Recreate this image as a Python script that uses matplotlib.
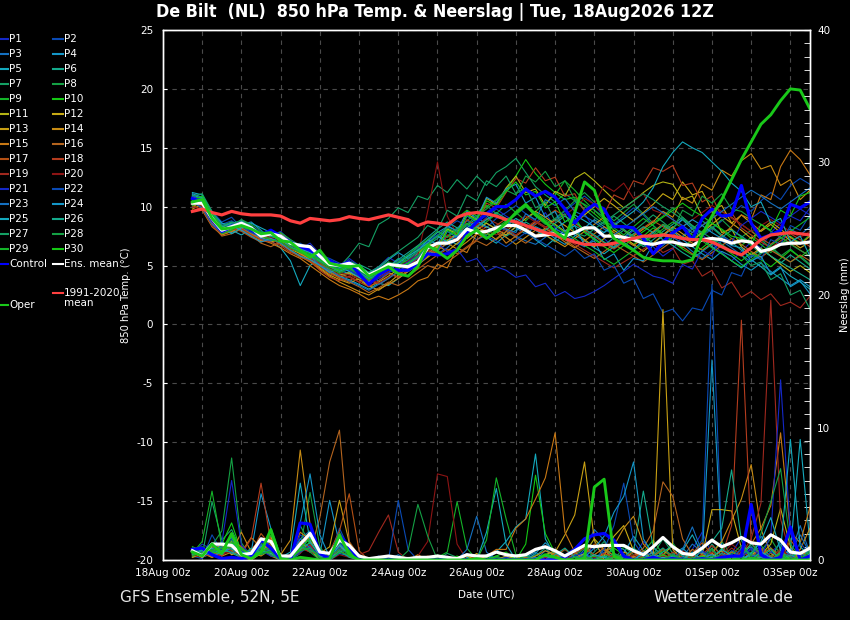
import matplotlib
matplotlib.use("Agg")
import matplotlib.pyplot as plt
import matplotlib.dates as mdates
from matplotlib.lines import Line2D
from matplotlib.ticker import MultipleLocator
from datetime import datetime, timedelta

plt.rcParams['font.family'] = ['DejaVu Sans']
plt.rcParams['axes.unicode_minus'] = False

# time axis: 6-hourly steps from 18Aug 18Z to 03Sep 12Z
run_start = datetime(2026, 8, 18, 18)
n_steps = 64
x_start = datetime(2026, 8, 18, 0)
x_end = datetime(2026, 9, 3, 12)
tick_dates = [datetime(2026, 8, 18) + timedelta(days=2 * k) for k in range(9)]

# ---- main lines: 850 hPa temperature (degC) ----
ctrl_temp = [10.7, 10.4, 8.9, 7.9, 8.3, 8.6, 8.0, 7.6, 8.0, 7.5, 7.0, 6.6, 6.3, 5.8, 5.4, 5.0,
             5.3, 4.3, 3.4, 4.2, 4.7, 4.6, 4.6, 5.2, 6.0, 5.9, 6.0, 6.3, 7.8, 8.7, 9.4, 10.0,
             10.0, 10.6, 11.5, 10.9, 11.3, 10.8, 9.8, 8.6, 9.6, 10.2, 9.8, 8.3, 8.3, 8.2, 7.3, 6.0,
             7.0, 7.8, 8.3, 7.2, 9.0, 9.8, 9.2, 9.3, 11.8, 8.6, 7.3, 7.6, 8.0, 10.2, 9.9, 10.4]
mean_temp = [10.3, 10.3, 9.0, 8.0, 8.3, 8.6, 8.2, 7.5, 7.7, 7.5, 6.9, 6.7, 6.6, 5.8, 5.1, 5.0,
             5.2, 4.8, 4.2, 4.6, 5.1, 5.0, 4.9, 5.3, 6.5, 6.9, 6.9, 7.2, 8.1, 7.8, 7.9, 8.2,
             8.4, 8.4, 8.0, 7.5, 7.6, 7.7, 7.5, 7.8, 8.2, 8.2, 7.5, 7.5, 7.4, 7.2, 6.9, 6.8,
             7.0, 7.0, 6.8, 6.7, 7.2, 7.3, 7.2, 6.9, 7.1, 7.0, 6.2, 6.4, 6.8, 6.9, 6.9, 7.0]
clim_temp = [9.6, 9.8, 9.5, 9.3, 9.6, 9.4, 9.3, 9.3, 9.3, 9.2, 8.8, 8.6, 9.0, 8.9, 8.8, 8.9,
             9.15, 9.0, 8.9, 9.1, 9.3, 9.1, 8.9, 8.4, 8.7, 8.6, 8.45, 9.1, 9.4, 9.5, 9.4, 9.2,
             8.9, 8.7, 8.4, 8.1, 7.8, 7.6, 7.3, 7.0, 6.8, 6.8, 6.75, 6.9, 7.1, 7.3, 7.5, 7.5,
             7.6, 7.5, 7.3, 7.2, 7.2, 7.0, 6.6, 6.2, 5.9, 6.5, 7.2, 7.6, 7.7, 7.8, 7.7, 7.6]
oper_temp = [10.4, 10.6, 9.0, 8.1, 8.2, 8.4, 8.1, 7.7, 7.8, 7.1, 7.0, 6.3, 5.7, 6.3, 5.2, 5.0,
             4.9, 5.0, 4.1, 4.5, 4.9, 4.3, 4.1, 4.9, 6.7, 6.2, 5.6, 6.3, 7.5, 8.0, 7.3, 7.9,
             8.6, 9.5, 10.2, 9.3, 8.7, 7.9, 7.3, 9.5, 12.1, 11.4, 9.0, 7.3, 6.8, 6.3, 5.7, 5.5,
             5.4, 5.4, 5.3, 5.5, 7.6, 9.2, 10.6, 12.3, 14.0, 15.5, 17.0, 17.8, 19.0, 20.0, 19.9, 18.3]

# ---- main lines: precipitation (mm / 6h) ----
ctrl_rain = [0.8, 0.9, 0.4, 0.1, 0.2, 0.1, 0.3, 1.5, 0.9, 0.1, 0.0, 2.8, 2.7, 0.5, 0.1, 1.9,
             1.0, 0.0, 0.0, 0.0, 0.0, 0.0, 0.0, 0.0, 0.0, 0.0, 0.0, 0.0, 0.0, 0.0, 0.0, 0.0,
             0.0, 0.0, 0.0, 0.0, 0.0, 0.0, 0.2, 0.8, 1.6, 1.9, 2.0, 1.5, 0.3, 0.0, 0.0, 0.2,
             0.0, 0.1, 0.0, 0.0, 0.1, 0.0, 0.2, 0.3, 0.3, 4.2, 0.4, 0.0, 0.2, 2.5, 0.0, 0.3]
mean_rain = [0.7, 0.3, 1.2, 1.2, 1.1, 0.4, 0.5, 1.6, 1.4, 0.3, 0.3, 1.2, 2.0, 0.6, 0.5, 1.5,
             1.1, 0.3, 0.1, 0.2, 0.3, 0.2, 0.1, 0.2, 0.2, 0.3, 0.2, 0.1, 0.4, 0.3, 0.3, 0.6,
             0.4, 0.3, 0.4, 0.8, 1.0, 0.7, 0.3, 0.7, 1.1, 1.0, 1.1, 1.1, 1.1, 0.7, 0.4, 1.0,
             1.7, 1.0, 0.5, 0.4, 0.9, 1.5, 1.0, 1.3, 1.7, 1.3, 1.2, 1.9, 1.5, 0.6, 0.5, 0.9]
oper_rain = [0.6, 0.3, 1.2, 0.5, 2.0, 0.4, 0.1, 0.6, 2.3, 0.1, 0.0, 0.2, 0.1, 0.0, 0.1, 1.9,
             0.4, 0.0, 0.0, 0.0, 0.0, 0.0, 0.0, 0.0, 0.0, 0.0, 0.0, 0.0, 0.0, 0.1, 0.0, 0.0,
             0.0, 0.0, 0.0, 0.0, 0.4, 0.2, 0.0, 0.0, 0.1, 5.5, 6.1, 0.3, 0.0, 0.0, 0.0, 0.0,
             0.0, 0.0, 0.0, 0.0, 0.0, 0.0, 0.0, 0.0, 0.0, 0.0, 0.0, 0.0, 0.0, 0.0, 0.0, 0.0]

# ---- perturbed members: temperature ----
p01_temp = [10.9, 10.6, 9.2, 8.3, 8.6, 8.4, 8.0, 7.2, 7.5, 7.9, 7.1, 6.4, 6.9, 6.0, 5.3, 4.8,
            5.6, 5.0, 4.4, 4.9, 5.7, 5.2, 5.5, 6.1, 7.2, 7.9, 7.4, 8.1, 8.8, 8.3, 9.1, 9.8,
            9.2, 8.7, 8.0, 8.6, 9.5, 8.2, 7.6, 8.9, 9.4, 8.1, 7.3, 6.5, 7.2, 8.0, 7.4, 6.6,
            5.8, 6.4, 7.5, 8.3, 7.6, 6.9, 6.1, 5.4, 6.2, 7.0, 6.5, 7.8, 8.6, 9.2, 8.8, 9.9]
p02_temp = [10.5, 10.9, 9.6, 8.7, 9.1, 8.2, 7.9, 7.5, 7.9, 7.2, 6.6, 6.9, 6.4, 5.9, 5.6, 5.2,
            5.0, 4.4, 3.8, 4.3, 4.9, 5.1, 4.6, 5.0, 6.0, 6.4, 6.8, 7.5, 7.9, 8.6, 8.2, 9.0,
            9.5, 10.1, 9.4, 8.8, 8.2, 8.9, 9.6, 10.3, 10.9, 10.2, 9.1, 8.5, 9.2, 9.9, 9.3, 8.4,
            7.6, 8.2, 9.0, 8.3, 7.5, 8.1, 8.8, 9.4, 10.1, 9.6, 10.5, 11.2, 10.6, 11.8, 12.4, 11.9]
p03_temp = [11.0, 10.2, 8.8, 7.7, 8.1, 8.9, 8.3, 7.8, 7.4, 7.6, 7.0, 6.6, 6.2, 5.4, 4.9, 4.5,
            4.8, 4.2, 3.6, 4.0, 4.6, 4.4, 5.0, 5.6, 6.3, 6.0, 6.5, 7.3, 7.8, 7.2, 7.6, 8.4,
            8.0, 7.5, 7.1, 6.8, 7.4, 8.1, 7.7, 7.0, 6.6, 7.3, 7.8, 8.6, 8.1, 7.4, 6.8, 6.1,
            6.7, 7.4, 6.9, 6.2, 5.6, 6.3, 7.1, 6.5, 5.9, 5.3, 6.0, 6.8, 7.5, 8.1, 7.6, 8.3]
p04_temp = [10.8, 10.0, 8.6, 8.0, 7.8, 8.5, 8.7, 8.0, 7.3, 7.0, 6.8, 6.2, 5.7, 5.5, 5.0, 4.6,
            4.3, 4.9, 4.1, 3.7, 4.4, 5.3, 5.9, 6.6, 7.1, 7.8, 8.3, 8.0, 7.6, 8.2, 8.9, 9.3,
            8.8, 8.2, 7.7, 8.3, 7.9, 7.3, 6.8, 7.5, 8.2, 8.9, 8.3, 7.6, 7.0, 6.4, 7.1, 7.8,
            8.4, 7.9, 7.2, 6.6, 6.0, 5.5, 6.2, 5.8, 5.1, 4.6, 5.2, 4.5, 3.9, 3.3, 3.8, 3.2]
p05_temp = [11.2, 11.0, 9.3, 8.4, 8.0, 7.6, 8.1, 7.7, 7.1, 6.5, 5.4, 3.3, 5.0, 5.6, 4.7, 4.1,
            3.8, 3.4, 3.0, 3.5, 3.3, 3.9, 4.5, 5.0, 5.8, 6.6, 7.2, 6.8, 7.5, 8.0, 7.4, 6.9,
            7.6, 8.3, 7.9, 7.2, 6.6, 7.3, 8.0, 7.6, 7.1, 6.5, 6.0, 6.6, 7.4, 8.1, 7.5, 6.9,
            7.5, 8.2, 8.9, 8.1, 7.3, 6.6, 6.0, 5.4, 4.8, 5.5, 4.9, 4.2, 4.8, 4.1, 3.6, 3.0]
p06_temp = [10.6, 10.4, 9.4, 8.6, 8.2, 8.0, 7.6, 7.3, 7.6, 7.2, 6.5, 6.1, 5.8, 5.2, 4.4, 4.0,
            4.5, 5.1, 4.7, 4.2, 4.9, 5.6, 5.2, 5.8, 6.7, 7.3, 8.1, 7.7, 8.4, 9.0, 8.6, 8.1,
            7.5, 8.0, 8.7, 8.2, 7.6, 7.0, 7.7, 8.4, 7.9, 7.3, 6.7, 7.4, 8.0, 7.3, 6.6, 7.2,
            7.9, 8.5, 9.1, 8.4, 7.7, 8.3, 7.6, 7.0, 6.3, 5.7, 6.4, 5.8, 5.2, 5.9, 5.3, 4.7]
p07_temp = [10.4, 10.7, 9.1, 8.2, 8.5, 8.3, 7.7, 7.4, 7.8, 7.3, 6.9, 6.5, 6.0, 5.7, 5.2, 4.9,
            5.8, 6.9, 6.6, 8.5, 9.0, 9.9, 9.5, 10.9, 10.6, 11.8, 11.2, 12.3, 11.5, 12.6, 11.8, 12.9,
            13.4, 14.1, 12.9, 11.7, 11.0, 10.4, 11.1, 10.5, 9.8, 9.1, 8.5, 9.2, 8.6, 7.9, 8.6, 9.3,
            8.7, 8.0, 7.4, 8.1, 8.8, 8.2, 7.5, 6.8, 7.4, 6.7, 6.0, 6.6, 5.9, 5.3, 5.8, 5.1]
p08_temp = [10.7, 10.3, 8.9, 8.1, 8.7, 8.4, 7.9, 7.1, 7.5, 7.8, 7.2, 6.7, 6.3, 5.5, 5.0, 4.3,
            4.7, 4.1, 3.7, 4.2, 4.8, 4.5, 4.9, 5.4, 6.2, 6.9, 7.5, 8.2, 8.8, 9.5, 10.1, 9.4,
            8.7, 9.3, 10.0, 9.2, 8.5, 9.0, 9.7, 10.5, 11.2, 10.4, 9.6, 8.8, 9.5, 10.2, 9.4, 8.6,
            9.2, 9.9, 9.1, 8.3, 7.6, 8.2, 8.9, 8.1, 7.4, 8.0, 7.2, 6.5, 5.8, 6.4, 5.7, 5.0]
p09_temp = [10.2, 10.5, 9.0, 7.9, 8.2, 8.8, 8.4, 7.6, 7.3, 7.5, 6.7, 6.3, 6.5, 5.9, 5.1, 4.6,
            5.0, 4.6, 4.0, 4.5, 5.2, 5.0, 5.7, 6.4, 7.0, 7.6, 7.1, 7.8, 8.5, 8.0, 8.7, 9.4,
            10.2, 9.5, 8.8, 9.6, 10.3, 11.0, 12.2, 11.4, 10.5, 9.7, 8.9, 8.2, 7.6, 8.3, 9.0, 8.4,
            7.7, 7.1, 6.5, 7.2, 7.9, 8.6, 8.0, 7.3, 6.7, 7.4, 6.8, 6.1, 6.8, 7.5, 6.9, 7.6]
p10_temp = [10.5, 10.8, 9.3, 8.1, 8.4, 8.6, 8.0, 7.6, 7.7, 7.4, 7.0, 6.4, 5.9, 5.6, 5.0, 4.8,
            4.9, 4.5, 3.9, 4.7, 5.3, 4.9, 5.1, 5.9, 6.8, 7.5, 8.3, 9.0, 9.7, 9.2, 10.0, 10.6,
            11.4, 12.6, 14.0, 12.8, 11.9, 11.2, 10.6, 10.8, 10.1, 9.4, 8.7, 8.0, 7.4, 6.8, 7.5, 8.2,
            7.6, 7.0, 6.4, 5.9, 6.5, 7.2, 6.6, 6.0, 5.4, 6.1, 5.5, 4.9, 5.6, 6.3, 5.7, 6.4]
p11_temp = [10.9, 10.1, 8.7, 7.8, 8.0, 8.5, 8.1, 7.4, 7.0, 7.2, 6.6, 6.0, 5.6, 5.0, 4.5, 4.0,
            4.3, 3.8, 3.2, 3.6, 4.1, 4.7, 5.3, 6.0, 6.9, 6.5, 8.1, 7.7, 9.4, 8.9, 10.7, 10.2,
            11.6, 12.6, 11.2, 11.5, 10.1, 11.3, 10.9, 12.4, 12.9, 12.2, 11.4, 10.6, 9.9, 10.5, 11.2, 11.8,
            12.1, 11.9, 10.6, 10.9, 9.2, 9.6, 7.8, 8.1, 6.6, 5.9, 6.5, 5.8, 5.1, 4.5, 5.0, 4.4]
p12_temp = [10.3, 10.6, 9.2, 8.3, 8.1, 8.7, 8.2, 7.7, 7.4, 7.7, 7.1, 6.5, 6.1, 5.3, 4.6, 4.2,
            4.4, 4.0, 3.5, 4.1, 4.4, 4.0, 4.6, 5.2, 5.8, 6.5, 7.1, 7.7, 7.3, 8.0, 8.6, 8.1,
            7.6, 8.3, 9.0, 9.6, 9.1, 8.5, 7.9, 8.6, 9.3, 10.0, 10.7, 10.1, 9.4, 8.8, 9.5, 10.2,
            11.1, 10.6, 12.1, 11.0, 11.3, 9.7, 10.1, 8.6, 9.3, 8.6, 7.9, 8.5, 7.8, 7.1, 6.5, 7.0]
p13_temp = [10.0, 10.4, 8.8, 7.6, 7.9, 8.3, 7.8, 7.3, 7.6, 7.1, 6.4, 6.0, 5.5, 4.8, 4.2, 3.8,
            3.5, 3.9, 3.3, 2.9, 3.5, 4.2, 4.8, 5.4, 6.0, 6.7, 6.2, 6.9, 7.6, 8.3, 7.8, 7.2,
            7.9, 8.6, 8.1, 7.5, 8.2, 8.9, 8.4, 7.8, 7.2, 6.6, 7.3, 8.0, 7.4, 6.8, 6.2, 6.9,
            7.6, 8.3, 7.7, 7.1, 7.8, 8.5, 9.2, 8.6, 8.0, 7.3, 8.0, 8.7, 8.1, 7.4, 6.8, 7.5]
p14_temp = [9.8, 10.2, 8.6, 7.9, 8.3, 8.0, 7.5, 7.1, 7.3, 6.8, 6.3, 5.8, 5.3, 4.7, 4.1, 3.6,
            3.2, 2.8, 2.5, 3.0, 3.4, 3.9, 4.5, 5.1, 5.7, 6.3, 6.9, 6.4, 7.0, 7.7, 8.3, 7.9,
            7.4, 6.8, 7.4, 8.0, 7.6, 7.1, 6.6, 7.3, 7.9, 8.5, 9.1, 8.6, 8.0, 7.5, 8.1, 8.7,
            9.6, 9.1, 10.8, 10.3, 11.9, 11.4, 13.1, 12.6, 13.9, 14.5, 13.2, 13.5, 11.8, 12.3, 10.6, 11.4]
p15_temp = [10.1, 9.7, 8.3, 7.6, 7.9, 8.2, 7.7, 7.2, 6.9, 6.5, 6.0, 5.6, 5.0, 4.4, 3.8, 3.3,
            3.0, 2.6, 2.1, 2.4, 2.1, 2.5, 3.0, 3.7, 4.0, 5.1, 4.8, 6.5, 6.1, 7.7, 7.3, 7.9,
            6.9, 7.5, 8.1, 8.7, 8.2, 7.6, 7.0, 6.5, 7.1, 7.7, 8.3, 7.8, 7.2, 6.7, 7.3, 7.9,
            8.5, 8.0, 7.4, 6.9, 6.3, 6.9, 7.6, 8.3, 9.3, 8.9, 11.0, 10.6, 13.4, 14.8, 14.0, 12.7]
p16_temp = [10.6, 10.0, 8.5, 7.5, 7.7, 8.1, 7.6, 6.9, 6.6, 7.0, 6.5, 6.1, 5.7, 5.1, 4.5, 3.9,
            3.6, 3.2, 2.7, 3.1, 3.6, 3.3, 3.8, 4.4, 5.0, 4.7, 5.3, 5.9, 6.5, 7.1, 6.7, 7.3,
            7.9, 7.4, 6.9, 7.5, 8.1, 7.7, 7.2, 6.6, 6.1, 5.6, 6.2, 6.8, 6.3, 5.8, 5.3, 5.9,
            6.5, 7.1, 6.6, 6.0, 5.5, 6.1, 6.7, 7.3, 6.8, 6.2, 5.7, 6.3, 5.8, 5.3, 5.9, 5.4]
p17_temp = [10.2, 10.5, 9.0, 8.0, 8.2, 7.9, 7.4, 7.0, 7.2, 6.9, 6.2, 5.7, 5.4, 4.9, 4.3, 4.0,
            3.7, 4.2, 3.8, 3.4, 3.9, 4.5, 4.1, 4.7, 5.3, 5.9, 6.4, 6.0, 6.6, 7.2, 7.8, 8.4,
            9.0, 8.5, 7.9, 8.5, 9.1, 9.7, 9.2, 8.6, 8.0, 7.5, 6.9, 6.4, 7.0, 7.6, 8.2, 8.8,
            8.3, 7.7, 7.2, 7.8, 8.4, 9.0, 9.6, 9.1, 8.5, 7.9, 7.3, 6.8, 7.4, 6.9, 6.3, 5.8]
p18_temp = [10.4, 10.1, 8.7, 7.9, 8.4, 8.1, 7.6, 7.2, 7.0, 6.7, 6.1, 5.9, 5.4, 4.6, 4.0, 3.7,
            4.1, 3.6, 3.2, 3.7, 4.3, 4.0, 4.6, 5.3, 6.3, 6.1, 7.6, 7.2, 8.9, 8.4, 10.3, 9.9,
            11.2, 12.4, 12.0, 13.3, 12.2, 12.5, 10.9, 11.1, 9.6, 10.1, 9.4, 11.0, 10.6, 12.2, 11.9, 13.3,
            13.0, 13.5, 11.8, 12.0, 10.4, 10.9, 9.1, 9.5, 8.2, 7.6, 7.0, 6.5, 7.1, 7.7, 7.2, 6.6]
p19_temp = [10.0, 9.8, 8.4, 7.7, 8.0, 8.4, 7.9, 7.5, 7.2, 6.9, 6.4, 6.2, 5.6, 5.2, 4.7, 4.2,
            4.0, 3.6, 3.9, 3.5, 4.0, 4.4, 5.0, 5.6, 6.2, 6.8, 7.5, 7.1, 7.7, 8.4, 9.0, 8.6,
            8.1, 7.6, 8.2, 8.8, 8.3, 7.8, 7.3, 6.8, 6.3, 5.8, 5.3, 4.8, 5.3, 5.8, 6.4, 6.9,
            6.1, 6.5, 5.1, 5.4, 4.1, 4.6, 3.1, 3.6, 2.3, 2.8, 2.1, 2.6, 1.6, 1.9, 1.4, 2.4]
p20_temp = [10.3, 10.0, 8.8, 8.0, 8.3, 8.6, 8.1, 7.6, 7.4, 7.0, 6.6, 6.3, 5.9, 5.3, 4.8, 4.4,
            4.2, 3.9, 3.6, 4.0, 4.5, 4.9, 5.4, 5.9, 9.6, 13.8, 9.2, 7.6, 7.9, 8.5, 8.0, 7.6,
            8.1, 8.7, 9.2, 8.7, 8.2, 8.8, 9.3, 9.9, 10.7, 10.2, 11.8, 11.3, 12.0, 10.7, 11.1, 9.7,
            9.4, 8.9, 8.3, 8.9, 9.5, 10.1, 9.6, 9.0, 8.5, 7.9, 8.4, 8.9, 8.4, 7.9, 7.4, 7.9]
p21_temp = [10.6, 10.3, 8.9, 8.1, 8.5, 8.7, 8.3, 7.8, 7.5, 7.3, 6.8, 6.4, 6.0, 5.4, 4.9, 4.5,
            4.6, 4.1, 3.5, 3.9, 4.4, 4.8, 5.3, 5.9, 6.4, 6.9, 6.2, 6.4, 5.3, 5.6, 4.5, 4.9,
            4.6, 4.0, 4.2, 3.2, 3.5, 2.4, 2.8, 2.2, 2.4, 2.8, 3.3, 3.9, 4.5, 5.1, 4.6, 4.1,
            3.9, 3.5, 5.1, 4.7, 6.3, 5.8, 7.5, 7.0, 8.4, 9.0, 9.6, 9.1, 8.6, 9.2, 9.8, 9.3]
p22_temp = [10.9, 10.6, 9.4, 8.5, 8.8, 8.3, 7.8, 7.4, 7.7, 7.5, 6.9, 6.7, 6.2, 5.6, 5.1, 4.7,
            5.0, 4.5, 4.0, 4.4, 5.0, 5.4, 5.9, 6.5, 7.0, 7.6, 8.2, 8.8, 8.4, 7.9, 7.5, 7.1,
            6.6, 7.2, 7.8, 7.3, 6.8, 6.3, 5.8, 6.4, 5.6, 6.0, 4.6, 5.0, 3.5, 3.9, 2.2, 2.6,
            1.0, 1.3, 0.3, 1.4, 1.2, 2.9, 2.5, 4.4, 4.1, 5.9, 5.5, 7.2, 6.8, 8.4, 8.0, 9.3]
p23_temp = [10.4, 9.9, 8.5, 7.8, 8.2, 8.5, 8.0, 7.3, 7.1, 7.4, 6.8, 6.2, 5.8, 5.0, 4.6, 4.1,
            3.7, 3.3, 2.9, 3.4, 3.9, 4.5, 5.1, 5.7, 6.6, 6.2, 7.9, 7.4, 9.2, 8.7, 9.3, 8.2,
            8.1, 7.8, 9.4, 8.9, 10.6, 10.1, 10.7, 9.6, 9.2, 8.7, 8.1, 7.6, 8.2, 8.8, 9.4, 10.0,
            9.5, 8.9, 8.4, 7.8, 8.4, 9.0, 9.6, 10.2, 10.8, 11.4, 10.9, 10.3, 9.8, 10.4, 11.0, 11.6]
p24_temp = [11.1, 10.8, 9.5, 8.6, 8.4, 8.0, 7.5, 7.0, 7.3, 6.9, 6.3, 5.8, 5.5, 5.0, 4.4, 4.8,
            5.3, 4.9, 4.4, 4.8, 5.5, 6.1, 5.6, 6.2, 7.2, 6.8, 8.4, 7.9, 9.6, 9.0, 10.8, 10.3,
            11.5, 11.9, 10.3, 10.8, 9.1, 9.6, 7.9, 8.4, 6.7, 7.1, 5.5, 6.0, 4.6, 5.6, 5.4, 6.8,
            7.1, 7.7, 8.3, 8.9, 8.4, 7.8, 7.3, 6.7, 6.5, 5.4, 5.8, 4.3, 4.9, 3.2, 3.7, 2.6]
p25_temp = [11.0, 10.7, 9.2, 8.2, 7.7, 8.2, 8.6, 8.2, 7.8, 7.4, 6.9, 6.4, 6.1, 5.7, 5.2, 4.9,
            4.5, 4.0, 3.6, 4.1, 4.7, 5.2, 5.8, 6.3, 6.9, 7.5, 7.0, 7.6, 8.2, 8.8, 8.3, 7.8,
            8.4, 9.0, 8.5, 8.0, 7.5, 8.1, 8.7, 9.3, 8.8, 8.3, 7.8, 8.4, 9.0, 9.6, 10.4, 11.6,
            13.4, 14.6, 15.5, 15.0, 14.6, 13.8, 13.0, 12.0, 11.3, 10.0, 10.4, 8.6, 9.0, 7.0, 7.5, 5.8]
p26_temp = [10.7, 10.5, 9.1, 8.3, 8.6, 8.8, 8.2, 7.7, 7.5, 7.2, 6.6, 6.2, 5.8, 5.4, 4.9, 4.5,
            4.9, 4.4, 3.9, 4.3, 4.9, 5.5, 6.1, 6.7, 7.4, 8.1, 8.7, 8.2, 7.7, 8.3, 8.9, 9.5,
            9.0, 8.4, 7.9, 7.4, 8.0, 8.6, 9.2, 8.7, 8.1, 7.6, 7.0, 6.5, 7.1, 7.7, 8.3, 7.8,
            7.2, 6.7, 6.1, 5.6, 6.2, 6.8, 7.4, 8.0, 7.5, 6.9, 6.4, 5.8, 5.3, 4.8, 4.3, 3.8]
p27_temp = [10.9, 11.1, 9.6, 8.4, 8.7, 8.4, 7.9, 7.5, 7.7, 7.6, 7.0, 6.8, 6.3, 5.8, 5.3, 5.0,
            5.4, 5.0, 4.4, 4.9, 5.6, 6.2, 6.8, 7.4, 8.4, 8.0, 9.7, 9.2, 11.0, 10.5, 12.2, 11.7,
            12.6, 11.1, 11.6, 9.9, 10.4, 8.8, 9.4, 7.8, 7.5, 8.1, 8.7, 9.3, 9.9, 10.5, 11.1, 10.6,
            10.0, 9.5, 8.9, 8.4, 7.8, 7.3, 6.8, 6.2, 5.9, 5.0, 5.3, 3.8, 4.3, 2.5, 2.9, 1.3]
p28_temp = [10.3, 10.6, 9.0, 8.0, 8.4, 8.9, 8.5, 7.9, 7.6, 7.8, 7.2, 6.6, 6.4, 5.7, 5.0, 4.7,
            5.1, 4.7, 4.2, 4.6, 5.3, 5.0, 5.5, 6.2, 6.8, 7.5, 8.2, 7.8, 8.5, 9.2, 9.8, 10.5,
            11.4, 11.0, 12.6, 12.1, 13.0, 11.7, 12.2, 10.6, 10.2, 9.7, 9.1, 8.6, 8.0, 7.5, 7.0, 7.6,
            8.5, 8.0, 9.7, 9.2, 10.9, 10.3, 11.1, 9.8, 9.6, 9.0, 8.5, 7.9, 7.4, 6.8, 6.3, 5.8]
p29_temp = [10.1, 10.4, 8.9, 7.7, 8.0, 8.6, 8.2, 7.5, 7.2, 7.0, 6.5, 6.1, 5.9, 5.3, 4.7, 4.4,
            4.8, 4.3, 3.8, 4.2, 4.8, 5.3, 5.9, 6.6, 7.2, 7.9, 7.4, 8.0, 8.6, 8.1, 7.6, 8.2,
            8.8, 9.4, 10.0, 9.5, 8.9, 8.4, 7.8, 7.3, 6.7, 6.2, 5.6, 5.1, 5.7, 6.3, 6.9, 7.5,
            8.1, 8.7, 8.2, 7.6, 7.1, 6.5, 6.0, 5.4, 4.9, 5.5, 6.1, 6.7, 7.3, 7.9, 8.5, 9.1]
p30_temp = [10.6, 10.9, 9.4, 8.2, 8.3, 8.5, 8.0, 7.7, 7.9, 7.3, 6.8, 6.3, 6.0, 5.5, 4.9, 4.6,
            5.0, 4.6, 4.1, 4.4, 5.1, 4.8, 5.2, 5.8, 6.8, 6.4, 8.0, 7.6, 9.3, 8.8, 10.5, 10.1,
            11.3, 12.1, 11.0, 11.3, 9.9, 10.4, 8.7, 9.1, 7.8, 7.2, 6.6, 6.1, 6.7, 7.3, 7.9, 8.5,
            9.1, 9.7, 10.3, 9.7, 9.2, 8.6, 8.1, 7.5, 7.3, 6.8, 8.5, 8.0, 9.7, 9.2, 10.9, 11.2]

# ---- perturbed members: precipitation ----
p01_rain = [0.5, 1.2, 0.8, 0.3, 1.6, 0.4, 0.2, 1.1, 0.7, 0.1, 0.0, 1.9, 1.4, 0.3, 0.2, 1.0,
            0.6, 0.0, 0.0, 0.0, 0.2, 0.0, 0.0, 0.1, 0.0, 0.0, 0.3, 0.0, 0.0, 0.2, 0.0, 0.0,
            0.0, 0.4, 0.1, 0.0, 0.0, 0.6, 0.2, 0.0, 0.3, 1.1, 0.5, 0.0, 0.0, 0.2, 1.4, 0.6,
            0.0, 0.3, 0.0, 0.8, 2.1, 0.4, 0.0, 0.5, 1.7, 0.3, 0.0, 0.6, 1.2, 0.2, 0.0, 0.4]
p02_rain = [0.3, 0.1, 1.9, 0.6, 0.9, 0.2, 0.0, 0.7, 1.5, 0.0, 0.2, 1.1, 0.9, 0.0, 0.1, 2.4,
            0.8, 0.0, 0.0, 0.3, 0.0, 0.0, 0.0, 0.0, 0.2, 0.0, 0.0, 0.0, 0.5, 0.0, 0.0, 0.3,
            0.0, 0.0, 0.0, 0.2, 0.0, 0.0, 0.4, 0.9, 0.2, 0.0, 0.6, 1.3, 0.3, 0.0, 0.0, 0.2,
            0.9, 0.1, 0.0, 0.4, 1.5, 20.8, 1.1, 0.0, 0.3, 0.8, 0.0, 0.2, 1.4, 0.5, 0.0, 0.2]
p03_rain = [0.9, 0.4, 0.6, 1.4, 0.8, 0.0, 0.3, 1.2, 0.5, 0.0, 0.0, 1.6, 2.2, 0.4, 0.0, 1.3,
            0.4, 0.0, 0.0, 0.0, 0.0, 0.4, 0.0, 0.0, 0.0, 0.0, 0.0, 0.2, 0.0, 0.0, 0.0, 0.0,
            0.3, 0.0, 0.0, 0.0, 0.7, 0.3, 0.0, 0.0, 0.8, 2.3, 1.5, 0.4, 0.0, 0.0, 0.3, 0.9,
            0.4, 0.0, 0.2, 1.2, 0.6, 0.0, 0.0, 0.7, 0.3, 0.0, 1.8, 0.9, 0.0, 0.4, 2.6, 0.5]
p04_rain = [0.4, 0.8, 0.3, 1.0, 1.7, 0.5, 0.6, 5.0, 2.4, 0.3, 0.0, 1.0, 1.7, 0.4, 4.5, 1.2,
            0.5, 0.0, 0.0, 0.0, 0.0, 0.0, 0.2, 0.0, 0.0, 0.0, 0.0, 0.0, 0.0, 0.3, 0.0, 0.0,
            0.0, 0.0, 0.2, 0.6, 0.0, 0.0, 0.0, 0.4, 1.2, 0.3, 0.0, 0.0, 0.5, 1.8, 0.7, 0.0,
            0.0, 0.4, 0.9, 0.2, 0.0, 15.1, 0.6, 0.0, 0.0, 1.3, 0.4, 0.0, 0.2, 0.8, 0.0, 0.0]
p05_rain = [0.7, 0.2, 0.5, 0.4, 1.2, 0.9, 0.2, 0.5, 1.0, 0.0, 0.3, 0.7, 1.1, 0.5, 0.2, 1.6,
            0.3, 0.0, 0.0, 0.2, 0.0, 0.0, 0.0, 0.0, 0.0, 0.0, 0.0, 0.0, 0.2, 0.0, 0.0, 0.6,
            1.4, 2.5, 3.1, 8.0, 1.6, 0.3, 0.0, 0.2, 0.5, 0.0, 0.0, 1.1, 0.8, 0.0, 0.2, 0.6,
            0.0, 0.0, 0.7, 1.9, 0.4, 0.0, 0.3, 0.0, 0.6, 1.0, 0.2, 0.0, 0.3, 0.7, 9.1, 1.2]
p06_rain = [0.2, 0.6, 1.3, 0.9, 0.5, 0.2, 0.4, 0.9, 1.8, 0.2, 0.0, 0.5, 1.9, 0.8, 0.0, 0.6,
            1.1, 0.2, 0.0, 0.0, 0.0, 0.0, 0.0, 0.3, 0.0, 0.0, 0.0, 0.0, 0.0, 0.0, 0.4, 0.0,
            0.0, 0.0, 0.0, 0.3, 0.9, 0.2, 0.0, 0.0, 0.4, 0.0, 0.8, 0.3, 0.0, 0.7, 5.2, 1.0,
            0.2, 0.0, 0.0, 0.5, 0.0, 1.2, 0.3, 0.0, 0.9, 0.4, 0.0, 0.0, 1.5, 0.6, 0.0, 0.3]
p07_rain = [0.6, 0.3, 4.4, 1.5, 2.3, 0.7, 0.3, 1.0, 0.4, 0.0, 0.2, 2.6, 1.2, 0.3, 0.0, 0.8,
            0.5, 0.0, 0.0, 0.0, 0.3, 0.0, 0.0, 0.0, 0.0, 0.0, 0.5, 0.2, 0.0, 0.0, 0.0, 0.0,
            0.2, 0.0, 0.4, 0.0, 0.0, 0.5, 0.2, 0.0, 0.0, 0.6, 1.4, 0.5, 0.0, 0.0, 0.0, 0.4,
            1.6, 0.5, 0.0, 0.0, 0.3, 0.9, 0.0, 0.2, 0.0, 0.4, 1.1, 0.2, 0.0, 0.0, 0.5, 0.1]
p08_rain = [0.8, 0.5, 1.1, 2.2, 7.7, 1.3, 0.2, 0.6, 1.2, 0.3, 0.0, 0.9, 5.1, 1.0, 0.0, 2.1,
            0.7, 0.0, 0.0, 0.0, 0.0, 0.2, 0.0, 0.0, 0.0, 0.4, 0.0, 0.0, 0.0, 0.0, 0.0, 0.2,
            0.0, 0.0, 0.0, 0.4, 0.0, 0.0, 0.0, 0.3, 0.9, 0.2, 0.0, 0.0, 1.0, 0.4, 0.0, 0.0,
            0.3, 1.3, 0.2, 0.0, 0.0, 0.6, 1.4, 0.3, 0.0, 0.0, 0.7, 1.6, 0.4, 0.0, 0.0, 0.2]
p09_rain = [0.5, 1.4, 5.2, 1.0, 1.8, 0.4, 0.5, 1.3, 0.6, 0.1, 0.0, 1.4, 0.7, 0.2, 0.4, 1.9,
            0.4, 0.0, 0.0, 0.0, 0.0, 0.0, 0.0, 0.0, 0.0, 0.2, 0.6, 4.4, 0.9, 0.0, 0.0, 0.3,
            0.0, 0.4, 0.2, 0.0, 0.0, 0.2, 0.8, 0.3, 0.0, 0.0, 0.4, 0.2, 0.0, 0.0, 0.6, 1.5,
            0.4, 0.0, 0.0, 0.3, 0.0, 0.0, 0.9, 0.4, 0.0, 0.6, 0.0, 0.3, 0.8, 0.0, 0.0, 0.4]
p10_rain = [1.0, 0.7, 0.4, 1.2, 2.8, 0.6, 0.1, 0.8, 1.9, 0.4, 0.0, 0.6, 1.4, 0.3, 0.2, 1.3,
            0.9, 0.0, 0.0, 0.0, 0.0, 0.0, 0.0, 0.0, 0.0, 0.0, 0.0, 0.3, 0.0, 0.0, 0.2, 0.0,
            0.0, 0.0, 1.2, 6.4, 2.0, 0.5, 0.0, 0.0, 0.3, 0.0, 0.2, 0.9, 0.4, 0.0, 0.0, 0.3,
            0.7, 0.2, 0.0, 0.0, 0.4, 0.0, 0.0, 0.6, 0.2, 0.0, 0.3, 0.9, 0.0, 0.2, 0.5, 0.0]
p11_rain = [0.3, 0.9, 0.6, 0.7, 1.0, 0.3, 0.0, 0.5, 0.9, 0.0, 0.1, 1.3, 0.8, 0.0, 0.3, 1.1,
            0.4, 0.0, 0.0, 0.0, 0.0, 0.0, 0.0, 0.2, 0.0, 0.0, 0.0, 0.0, 0.3, 0.0, 0.0, 0.0,
            0.0, 0.0, 0.0, 0.0, 0.4, 0.7, 0.2, 0.0, 0.5, 1.6, 0.8, 0.0, 0.0, 0.3, 0.0, 0.0,
            0.4, 1.1, 0.6, 0.0, 0.0, 0.2, 0.7, 0.0, 0.0, 0.0, 0.4, 1.2, 3.9, 1.0, 0.0, 0.3]
p12_rain = [0.6, 0.2, 0.9, 1.1, 0.4, 0.8, 0.3, 0.6, 1.3, 0.2, 0.0, 0.8, 2.0, 0.6, 0.1, 0.9,
            0.6, 0.0, 0.0, 0.0, 0.0, 0.0, 0.0, 0.0, 0.0, 0.0, 0.0, 0.0, 0.0, 0.5, 0.0, 0.0,
            0.0, 0.3, 0.0, 0.0, 0.0, 0.4, 0.2, 0.0, 0.0, 0.0, 0.3, 1.8, 2.6, 0.7, 0.0, 0.0,
            0.2, 0.0, 0.6, 0.0, 0.3, 3.8, 3.8, 3.7, 0.9, 0.0, 0.2, 0.0, 0.5, 0.0, 0.3, 0.7]
p13_rain = [0.4, 0.6, 0.2, 0.5, 1.4, 1.0, 0.3, 0.4, 1.7, 0.1, 0.0, 1.2, 0.9, 0.5, 1.0, 4.5,
            1.3, 0.0, 0.0, 0.0, 0.0, 0.0, 0.0, 0.0, 0.0, 0.0, 0.0, 0.0, 0.0, 0.0, 0.0, 0.0,
            0.3, 0.0, 0.2, 0.0, 0.0, 0.6, 1.9, 3.4, 7.4, 1.5, 0.0, 0.0, 0.6, 0.3, 0.0, 0.4,
            18.9, 0.8, 0.0, 0.0, 0.2, 0.5, 0.0, 0.3, 0.0, 0.4, 0.8, 0.0, 0.0, 0.0, 0.3, 1.1]
p14_rain = [0.2, 0.4, 0.7, 0.3, 0.6, 2.1, 0.6, 0.3, 0.8, 0.4, 1.5, 8.3, 2.7, 0.6, 0.0, 0.7,
            0.3, 0.0, 0.0, 0.0, 0.0, 0.0, 0.0, 0.4, 0.0, 0.0, 0.0, 0.0, 0.0, 0.0, 0.0, 0.0,
            0.0, 0.0, 0.0, 0.3, 0.7, 0.4, 0.0, 0.0, 0.2, 0.0, 0.5, 1.1, 2.4, 3.3, 1.2, 0.4,
            0.0, 0.0, 0.6, 0.2, 0.0, 0.5, 1.4, 3.0, 4.6, 7.2, 2.3, 0.5, 0.0, 0.3, 0.8, 2.4]
p15_rain = [0.3, 0.5, 0.2, 0.8, 1.0, 0.6, 1.7, 0.9, 0.3, 0.0, 0.4, 2.1, 1.5, 0.2, 0.3, 0.9,
            0.5, 0.0, 0.0, 0.0, 0.3, 0.0, 0.0, 0.0, 0.0, 0.0, 0.0, 0.0, 0.0, 0.0, 0.3, 0.8,
            0.8, 2.4, 3.1, 4.6, 6.2, 9.6, 2.1, 0.6, 0.0, 0.4, 0.9, 0.3, 0.0, 0.2, 0.7, 0.0,
            0.3, 0.0, 0.0, 0.8, 0.4, 0.0, 0.2, 0.0, 0.5, 1.2, 2.4, 4.1, 9.6, 2.1, 1.3, 4.0]
p16_rain = [0.4, 0.2, 1.0, 0.6, 0.9, 0.3, 0.8, 1.6, 0.5, 0.2, 0.0, 1.0, 0.6, 3.2, 7.4, 9.8,
            1.4, 0.3, 0.0, 0.0, 0.0, 0.0, 0.2, 0.0, 0.0, 0.0, 0.0, 0.0, 0.0, 0.0, 0.0, 0.0,
            0.0, 0.0, 0.2, 0.0, 0.0, 0.5, 0.0, 0.0, 0.4, 1.2, 0.8, 0.0, 0.0, 0.3, 0.9, 2.2,
            5.9, 4.8, 1.6, 0.4, 0.0, 0.0, 0.2, 0.6, 0.3, 0.0, 0.4, 0.9, 0.3, 0.0, 0.5, 0.2]
p17_rain = [0.6, 0.3, 0.4, 0.9, 0.7, 0.2, 0.5, 2.0, 1.1, 0.0, 0.3, 1.4, 0.8, 0.3, 0.6, 2.2,
            5.0, 0.7, 0.0, 0.0, 0.0, 0.0, 0.0, 0.0, 0.3, 0.0, 0.0, 0.0, 0.0, 0.0, 0.0, 0.0,
            0.0, 0.0, 0.0, 0.0, 0.3, 0.0, 0.0, 0.5, 0.9, 0.4, 0.0, 0.0, 0.2, 0.6, 0.0, 0.3,
            0.8, 0.2, 0.0, 0.5, 1.3, 0.4, 0.0, 0.0, 0.6, 0.2, 0.9, 0.3, 0.0, 1.5, 0.6, 0.2]
p18_rain = [0.7, 0.4, 0.6, 0.3, 1.2, 0.5, 1.6, 5.8, 1.3, 0.2, 0.0, 0.7, 1.1, 0.2, 0.4, 1.5,
            0.6, 0.0, 0.0, 0.0, 0.0, 0.0, 0.0, 0.0, 0.0, 0.0, 0.0, 0.0, 0.0, 0.3, 0.0, 0.0,
            0.0, 0.0, 0.0, 0.0, 0.0, 0.3, 0.8, 0.2, 0.0, 0.0, 0.5, 0.2, 0.0, 0.0, 0.3, 0.0,
            0.0, 0.6, 0.2, 0.0, 0.4, 1.1, 0.3, 2.6, 18.1, 1.4, 0.2, 0.0, 0.7, 0.3, 0.0, 0.5]
p19_rain = [0.5, 0.6, 0.3, 0.4, 0.8, 1.1, 0.3, 0.6, 0.9, 0.1, 0.0, 0.9, 0.6, 0.4, 0.2, 0.7,
            0.3, 0.4, 0.7, 2.1, 3.4, 0.6, 0.0, 0.0, 0.0, 0.0, 0.0, 0.0, 0.0, 0.0, 0.0, 0.0,
            0.0, 0.0, 0.0, 0.0, 0.2, 0.0, 0.0, 0.0, 0.3, 0.0, 0.0, 0.4, 0.0, 0.0, 0.2, 0.0,
            0.5, 0.0, 0.0, 0.3, 0.0, 0.6, 0.2, 0.9, 0.4, 1.6, 4.3, 19.6, 3.1, 0.4, 0.0, 0.2]
p20_rain = [0.4, 0.2, 0.7, 0.5, 0.6, 0.4, 0.2, 0.8, 0.6, 0.0, 0.2, 0.5, 1.2, 0.3, 0.0, 0.4,
            0.2, 0.0, 0.0, 0.0, 0.0, 0.0, 0.0, 0.3, 1.4, 6.5, 6.3, 1.2, 0.0, 0.0, 0.0, 0.0,
            0.0, 0.0, 0.0, 0.0, 0.0, 0.0, 0.3, 0.0, 0.0, 0.2, 0.0, 0.0, 0.0, 0.4, 0.0, 0.0,
            0.3, 0.0, 0.7, 0.2, 0.0, 0.0, 0.4, 1.2, 0.6, 0.3, 0.0, 0.0, 0.9, 0.2, 0.0, 0.4]
p21_rain = [0.9, 0.6, 0.8, 1.3, 6.0, 1.1, 0.4, 0.7, 0.3, 0.2, 0.0, 1.1, 0.8, 0.6, 0.0, 1.4,
            0.5, 0.0, 0.0, 0.0, 0.0, 0.0, 0.0, 0.0, 0.0, 0.0, 0.0, 0.0, 0.0, 0.0, 0.0, 0.0,
            0.2, 0.0, 0.0, 0.0, 0.0, 0.0, 0.0, 0.3, 0.6, 0.0, 0.0, 0.0, 0.2, 0.0, 0.0, 0.0,
            0.0, 0.4, 0.0, 0.0, 0.7, 0.3, 0.0, 0.0, 0.2, 0.9, 0.3, 1.8, 13.6, 2.0, 0.4, 0.2]
p22_rain = [0.6, 0.4, 0.5, 0.8, 1.1, 0.7, 0.3, 0.5, 0.8, 0.0, 0.0, 0.6, 1.0, 0.2, 0.3, 0.9,
            0.4, 0.0, 0.0, 0.0, 0.0, 4.5, 0.8, 0.0, 0.0, 0.0, 0.0, 0.0, 0.0, 0.0, 0.0, 0.0,
            0.0, 0.0, 0.0, 0.0, 0.0, 0.0, 0.0, 0.0, 0.0, 0.0, 0.8, 2.6, 5.8, 1.4, 0.3, 0.0,
            0.0, 0.0, 0.2, 0.0, 0.0, 0.0, 0.5, 0.2, 0.8, 0.3, 0.0, 0.6, 0.2, 0.0, 1.3, 0.4]
p23_rain = [0.8, 0.3, 0.6, 1.0, 0.5, 0.9, 0.2, 1.1, 0.6, 0.0, 0.4, 1.6, 0.9, 0.2, 0.0, 0.5,
            0.3, 0.0, 0.0, 0.0, 0.0, 0.0, 0.0, 0.0, 0.0, 0.0, 0.0, 0.0, 0.8, 3.3, 0.6, 0.0,
            0.0, 0.0, 0.0, 0.2, 0.0, 0.0, 0.0, 0.0, 0.4, 0.0, 0.0, 0.2, 0.0, 0.0, 0.6, 0.3,
            0.0, 0.0, 0.8, 2.5, 0.6, 0.0, 0.0, 0.3, 0.0, 0.4, 0.2, 0.0, 0.0, 0.6, 1.9, 0.5]
p24_rain = [0.5, 0.7, 0.3, 0.6, 0.9, 0.4, 0.7, 1.0, 1.4, 0.3, 0.0, 2.8, 6.5, 1.9, 0.2, 0.6,
            0.9, 0.0, 0.0, 0.0, 0.0, 0.0, 0.0, 0.0, 0.0, 0.0, 0.0, 0.0, 0.0, 0.0, 0.0, 0.0,
            0.0, 0.0, 0.0, 0.5, 1.3, 0.6, 0.0, 0.0, 0.2, 0.9, 1.8, 3.6, 4.8, 7.4, 1.6, 0.4,
            0.0, 0.3, 0.0, 0.0, 0.2, 0.4, 0.0, 0.0, 0.3, 0.0, 0.6, 0.2, 0.0, 0.4, 0.0, 0.2]
p25_rain = [0.7, 0.5, 0.9, 0.4, 1.3, 0.6, 0.3, 0.7, 0.5, 0.2, 0.6, 5.8, 1.4, 0.3, 0.2, 1.1,
            0.4, 0.0, 0.0, 0.0, 0.0, 0.0, 0.0, 0.0, 0.0, 0.0, 0.0, 0.0, 0.0, 0.0, 2.1, 5.4,
            1.2, 0.0, 0.0, 0.0, 0.3, 0.0, 0.0, 0.0, 0.0, 0.4, 0.2, 0.0, 0.0, 0.0, 0.5, 0.0,
            0.2, 0.0, 0.0, 0.6, 0.0, 0.2, 0.8, 0.3, 0.0, 0.5, 1.4, 3.2, 0.7, 9.1, 1.0, 0.3]
p26_rain = [0.4, 0.8, 0.5, 0.7, 0.6, 0.3, 0.9, 0.6, 0.7, 0.1, 0.0, 0.8, 1.3, 0.5, 0.0, 0.7,
            0.2, 0.0, 0.0, 0.0, 0.0, 0.0, 0.0, 0.0, 0.0, 0.3, 0.0, 0.0, 0.0, 0.0, 0.0, 0.0,
            0.0, 0.0, 0.0, 0.0, 0.0, 0.4, 0.9, 0.2, 0.0, 0.0, 0.3, 0.0, 0.2, 0.9, 0.4, 0.0,
            0.6, 1.1, 0.3, 0.0, 0.8, 1.4, 2.4, 6.8, 1.5, 0.0, 0.2, 0.8, 0.0, 0.3, 0.6, 0.0]
p27_rain = [0.6, 0.9, 0.4, 1.2, 0.8, 0.5, 0.2, 0.9, 0.4, 0.0, 0.2, 1.0, 0.7, 0.4, 0.5, 1.5,
            0.6, 0.0, 0.0, 0.0, 0.0, 0.0, 0.0, 0.0, 0.0, 0.0, 0.0, 0.0, 0.0, 0.0, 0.0, 0.0,
            0.0, 0.0, 0.3, 0.0, 0.0, 0.0, 0.2, 0.0, 0.0, 0.0, 0.0, 0.5, 0.2, 0.0, 0.0, 0.4,
            0.9, 0.3, 0.0, 0.0, 0.2, 0.0, 0.5, 0.0, 0.3, 1.2, 0.4, 0.0, 0.6, 0.2, 0.0, 0.8]
p28_rain = [0.5, 0.3, 0.8, 0.6, 1.5, 0.4, 0.6, 0.4, 0.7, 0.2, 0.0, 1.3, 0.6, 0.0, 0.3, 0.8,
            0.5, 0.0, 0.0, 0.0, 0.0, 0.0, 0.7, 4.2, 1.8, 0.0, 0.0, 0.0, 0.0, 0.0, 0.0, 0.0,
            0.0, 0.0, 0.0, 0.0, 0.0, 0.2, 0.0, 0.0, 0.3, 0.0, 0.0, 0.0, 0.4, 0.0, 0.0, 0.2,
            0.0, 0.0, 0.5, 0.2, 0.0, 0.8, 0.0, 0.4, 1.1, 0.3, 2.0, 4.4, 6.9, 1.2, 0.2, 0.0]
p29_rain = [0.3, 0.6, 0.7, 0.9, 1.0, 0.8, 0.4, 0.5, 0.6, 0.0, 0.3, 0.7, 0.9, 0.2, 0.0, 0.6,
            0.4, 0.0, 0.0, 0.0, 0.0, 0.0, 0.0, 0.0, 0.0, 0.0, 0.0, 0.0, 0.0, 0.0, 1.5, 6.2,
            3.1, 0.4, 0.0, 0.0, 0.0, 0.0, 0.0, 0.2, 0.0, 0.3, 0.0, 0.0, 0.0, 0.0, 0.2, 0.0,
            0.0, 0.4, 0.0, 0.0, 0.0, 0.3, 0.0, 0.0, 0.2, 0.0, 0.5, 0.0, 0.3, 0.0, 0.0, 0.6]
p30_rain = [0.8, 1.0, 0.6, 0.5, 1.3, 0.9, 0.4, 0.6, 1.0, 0.1, 0.0, 0.9, 1.6, 0.7, 0.1, 1.8,
            0.7, 0.0, 0.0, 0.0, 0.0, 0.0, 0.0, 0.0, 0.0, 0.0, 0.0, 0.0, 0.0, 0.0, 0.0, 0.3,
            0.6, 0.0, 0.0, 0.0, 0.0, 0.0, 0.0, 0.0, 0.0, 0.0, 0.0, 0.2, 0.0, 0.0, 0.0, 0.0,
            0.4, 0.0, 0.0, 0.0, 0.3, 0.0, 0.0, 0.0, 0.0, 0.2, 0.0, 0.0, 0.5, 0.0, 0.3, 0.0]

member_names = ['P%d' % k for k in range(1, 31)]
member_temps = [p01_temp, p02_temp, p03_temp, p04_temp, p05_temp, p06_temp, p07_temp, p08_temp,
                p09_temp, p10_temp, p11_temp, p12_temp, p13_temp, p14_temp, p15_temp, p16_temp,
                p17_temp, p18_temp, p19_temp, p20_temp, p21_temp, p22_temp, p23_temp, p24_temp,
                p25_temp, p26_temp, p27_temp, p28_temp, p29_temp, p30_temp]
member_rains = [p01_rain, p02_rain, p03_rain, p04_rain, p05_rain, p06_rain, p07_rain, p08_rain,
                p09_rain, p10_rain, p11_rain, p12_rain, p13_rain, p14_rain, p15_rain, p16_rain,
                p17_rain, p18_rain, p19_rain, p20_rain, p21_rain, p22_rain, p23_rain, p24_rain,
                p25_rain, p26_rain, p27_rain, p28_rain, p29_rain, p30_rain]

# 20-colour cycle, P21..P30 reuse P1..P10
member_colors = ['#1428c8', '#0a4ab4', '#1470c0', '#1496c8', '#14aabe', '#14aa8c', '#14a064',
                 '#14a044', '#14b428', '#14c814', '#b4b414', '#c8aa14', '#c8a014', '#c88c14',
                 '#c87814', '#b4641e', '#b45014', '#b43c1e', '#a0281e', '#8c1414']
ctrl_color = '#0000ff'
mean_color = '#ffffff'
clim_color = '#ff4040'
oper_color = '#19c819'
grid_color = '#4a4a4a'

times = [run_start + timedelta(hours=6 * i) for i in range(n_steps)]

fig = plt.figure(figsize=(8.5, 6.2), dpi=100, facecolor='black')
ax = fig.add_axes([163 / 850, 60 / 620, 647 / 850, 530 / 620])
ax.set_facecolor('black')
ax2 = ax.twinx()

for i, (tv, rv) in enumerate(zip(member_temps, member_rains)):
    c = member_colors[i % 20]
    ax.plot(times[:len(tv)], tv, color=c, lw=0.8)
    ax2.plot(times[:len(rv)], rv, color=c, lw=0.8)

ax.plot(times, ctrl_temp, color=ctrl_color, lw=2.3)
ax.plot(times, mean_temp, color=mean_color, lw=2.3)
ax.plot(times, clim_temp, color=clim_color, lw=2.3)
ax.plot(times, oper_temp, color=oper_color, lw=2.1)
ax2.plot(times, ctrl_rain, color=ctrl_color, lw=2.3)
ax2.plot(times, mean_rain, color=mean_color, lw=2.3)
ax2.plot(times, oper_rain, color=oper_color, lw=2.1)

ax.set_xlim(x_start, x_end)
ax.set_ylim(-20, 25)
ax.set_yticks(range(-20, 30, 5))
ax2.set_ylim(0, 40)
ax2.set_yticks(range(0, 50, 10))
ax2.yaxis.set_minor_locator(MultipleLocator(1))

ax.set_xticks(tick_dates)
ax.set_xticklabels([d.strftime('%d%b 00z') for d in tick_dates])
ax.xaxis.set_minor_locator(mdates.DayLocator())

ax.grid(which='both', axis='x', color=grid_color, ls=(0, (4, 4)), lw=0.8)
ax.grid(which='major', axis='y', color=grid_color, ls=(0, (4, 4)), lw=0.8)
ax.set_axisbelow(True)

for a in (ax, ax2):
    for s in a.spines.values():
        s.set_color('white')
        s.set_linewidth(1.0)

ax.tick_params(axis='y', direction='in', length=3, color='white', labelcolor='white',
               labelsize=7.5, pad=7)
ax.tick_params(axis='x', which='both', length=0, labelcolor='white', labelsize=7.5, pad=6)
ax2.tick_params(axis='y', which='both', direction='in', length=4, color='white',
                labelcolor='white', labelsize=7.5, pad=5)

ax.set_ylabel('850 hPa Temp. (°C)', color='white', fontsize=7.2)
ax.yaxis.set_label_coords(-0.049, 0.5)
ax2.set_ylabel('Neerslag (mm)', color='white', fontsize=7.2)
ax2.yaxis.set_label_coords(1.046, 0.5)
ax.set_xlabel('Date (UTC)', color='white', fontsize=7.5)
ax.xaxis.set_label_coords(0.5, -0.055)

# legend drawn by hand to the left of the plot


def fx(px):
    return px / 850


def fy(py):
    return 1 - py / 620


leg_fs = 7.5
for k in range(15):
    y = 39.3 + 15 * k
    c1 = member_colors[(2 * k) % 20]
    c2 = member_colors[(2 * k + 1) % 20]
    fig.add_artist(Line2D([fx(0), fx(8)], [fy(y), fy(y)], color=c1, lw=1.5))
    fig.text(fx(9), fy(y), member_names[2 * k], color='white', fontsize=leg_fs, va='center')
    fig.add_artist(Line2D([fx(53), fx(63)], [fy(y), fy(y)], color=c2, lw=1.5))
    fig.text(fx(64), fy(y), member_names[2 * k + 1], color='white', fontsize=leg_fs, va='center')

y = 39.3 + 15 * 15
fig.add_artist(Line2D([fx(0), fx(8)], [fy(y), fy(y)], color=ctrl_color, lw=1.5))
fig.text(fx(9), fy(y), 'Control', color='white', fontsize=leg_fs, va='center')
fig.add_artist(Line2D([fx(53), fx(63)], [fy(y), fy(y)], color=mean_color, lw=1.5))
fig.text(fx(64), fy(y), 'Ens. mean', color='white', fontsize=leg_fs, va='center')
fig.add_artist(Line2D([fx(53), fx(63)], [fy(292.7), fy(292.7)], color=clim_color, lw=1.5))
fig.text(fx(64), fy(298), '1991-2020\nmean', color='white', fontsize=leg_fs, va='center',
         linespacing=1.0)
fig.add_artist(Line2D([fx(0), fx(8)], [fy(305), fy(305)], color=oper_color, lw=1.5))
fig.text(fx(9), fy(305), 'Oper', color='white', fontsize=leg_fs, va='center')

# title, fitted to the reference width
title = fig.text(fx(435), fy(12), 'De Bilt  (NL)  850 hPa Temp. & Neerslag | Tue, 18Aug2026 12Z',
                 color='white', fontsize=12, fontweight='bold', fontstretch='condensed',
                 ha='center', va='center')
fig.canvas.draw()
w = title.get_window_extent().width
title.set_fontsize(12 * 558 / w)

fig.text(fx(120), fy(598), 'GFS Ensemble, 52N, 5E', color='#e6e6e6', fontsize=11,
         ha='left', va='center')
fig.text(fx(793), fy(598), 'Wetterzentrale.de', color='#e6e6e6', fontsize=11.2,
         ha='right', va='center')

fig.savefig('out.png', dpi=100, facecolor='black')
